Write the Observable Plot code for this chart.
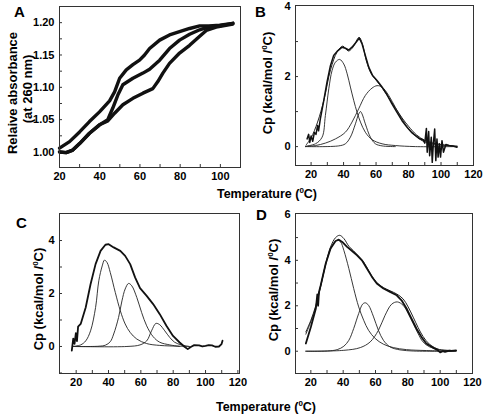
<!DOCTYPE html>
<html><head><meta charset="utf-8">
<script src="https://cdn.jsdelivr.net/npm/d3@7"></script>
<script src="https://cdn.jsdelivr.net/npm/@observablehq/plot@0.6"></script>
<style>
body{margin:0;background:#fff;}
#fig{position:relative;width:484px;height:414px;overflow:hidden;background:#fff;font-family:"Liberation Sans",Arial,sans-serif;}
#fig svg{position:absolute;}
</style></head><body><div id="fig"></div>
<script>
// ---------- Panel A: relative absorbance at 260 nm ----------
const aUpperT = [20,25,30,34.9,39.9,44.9,47.4,49.9,53.2,56.5,59.8,62.3,64.8,69.8,74.7,79.7,84.7,89.7,94.6,99.6,106.2];
const aUpperA = [1.006,1.016,1.031,1.047,1.062,1.079,1.093,1.114,1.127,1.135,1.142,1.150,1.160,1.173,1.181,1.186,1.191,1.195,1.195,1.196,1.199];
const aMiddleT = [20,23.3,26.6,30,34.9,39.9,44,46.5,49,51.5,56.5,61.5,64.8,69.8,74.7,79.7,84.7,89.7,94.6,99.6,106.2];
const aMiddleA = [1.000,0.999,1.003,1.013,1.029,1.042,1.050,1.068,1.088,1.104,1.114,1.122,1.128,1.142,1.160,1.173,1.182,1.189,1.194,1.195,1.199];
const aLowerT = [20,23.3,26.6,30,34.9,39.9,44,47.4,51.5,56.5,61.5,66.4,68.9,71.4,74.7,79.7,84.7,89.7,93,97.9,106.2];
const aLowerA = [1.000,0.999,1.003,1.013,1.029,1.042,1.048,1.060,1.073,1.083,1.091,1.098,1.109,1.122,1.137,1.153,1.165,1.179,1.188,1.193,1.198];
const aXTicks = [20,30,40,50,60,70,80,90,100,110];
const aXLabels = [20,40,60,80,100];
const aYTicks = [1.0,1.025,1.05,1.075,1.1,1.125,1.15,1.175,1.2];
const aYLabels = [1.0,1.05,1.1,1.15,1.2];

// ---------- Panel B ----------
const bDataT = [17.5,18.5,19.2,20,21,22,23,24,24.6,25.7,27.8,29.8,31.9,33.9,36,39.1,41.1,43.2,45.2,47.7,49.7,51.4,53.4,55.5,57.9,60.6,63.7,66.8,69.8,72.9,76,79.1,82.2,86.3,89,90,91,91.5,92.4,93,94,94.6,95.3,96.1,96.8,97.5,98.2,99,99.7,100.6,101.5,103,105,107,109.8];
const bDataCp = [0.22,0.35,0.12,0.3,0.15,0.4,0.35,0.6,0.45,0.79,1.31,1.84,2.31,2.60,2.72,2.84,2.81,2.76,2.84,2.98,3.10,2.93,2.60,2.27,2.03,1.89,1.70,1.48,1.22,0.98,0.74,0.55,0.39,0.24,0.19,0.1,0.52,-0.16,0.43,-0.26,0.27,-0.45,0.1,0.5,-0.4,0.22,-0.3,0.08,-0.3,0.17,-0.16,0.06,0.03,0.02,-0.02];
const bFitT = [17,20,24,28,32,36,39.5,43,46,49.5,51.5,54,57,60,64,68,72,76,80,85,90,95,100,105,110];
const bFitCp = [0.05,0.25,0.7,1.35,2.2,2.7,2.87,2.73,2.85,3.12,2.95,2.45,2.08,1.9,1.66,1.38,1.1,0.82,0.58,0.33,0.18,0.1,0.06,0.03,0.01];
const bC1T = [16.5,22.7,26.8,28.8,30.9,32.9,35,37.6,40.1,42.2,44.2,46.3,48.3,50.4,53.4,57.5,63.7,71.9,84.2,109.8];
const bC1Cp = [0.01,0.08,0.27,0.89,1.65,2.17,2.41,2.49,2.36,2.08,1.70,1.31,0.98,0.70,0.41,0.20,0.08,0.03,0,0];
const bC2T = [16.5,37,41.1,44.2,47.3,49.3,50.4,51.4,53.4,56.5,59.6,63.7,71.9];
const bC2Cp = [0,0.02,0.08,0.27,0.65,0.93,1.0,0.93,0.65,0.27,0.08,0.02,0];
const bC3T = [16.5,22.7,28.8,35,41.1,45.2,49.3,53.4,57.5,60.6,63.7,67.8,71.9,76,80.1,84.2,88.3,94.5,102.7,109.8];
const bC3Cp = [0,0.03,0.10,0.22,0.41,0.70,1.08,1.46,1.67,1.74,1.70,1.46,1.12,0.79,0.50,0.31,0.17,0.08,0.03,0.01];
const bXTicks = [20,30,40,50,60,70,80,90,100,110];
const bXLabels = [20,40,60,80,100,120];
const bYTicks = [0,1,2,3];
const bYLabels = [0,2,4];

// ---------- Panel C ----------
const cDataT = [17.3,18.2,19,19.8,20.5,21.2,22.8,25.9,28.9,32,35.1,38.1,40.1,43.2,47.3,50.3,53.4,56.5,59.5,63.6,67.6,71.7,75.8,79.9,84,87,89,91.1,93,96,98,100,102,104,106,108.3,109.9,110.5];
const cDataCp = [-0.16,0.3,0.1,0.5,0.2,0.75,0.85,1.47,2.35,3.11,3.61,3.84,3.86,3.74,3.61,3.42,3.11,2.60,2.20,1.91,1.60,1.22,0.78,0.40,0.15,-0.01,-0.10,-0.01,0.05,0.04,0.0,0.02,0.05,0.04,-0.01,0.0,0.09,0.22];
const cC1T = [17.8,22.8,25.9,28.9,32,34,36.1,37.5,39.1,41.1,44.2,47.3,50.3,53.4,57.5,63.6,71.7,84,90];
const cC1Cp = [0,0.06,0.21,0.59,1.47,2.48,3.04,3.26,3.17,2.79,2.04,1.35,0.85,0.53,0.28,0.11,0.04,0.01,0];
const cC2T = [17.8,34.1,38.1,41.1,43.2,46.2,48.3,50.3,52.4,54.4,57.5,60.5,63.6,67.6,71.7,77.9,84];
const cC2Cp = [0,0.01,0.05,0.18,0.47,1.09,1.72,2.17,2.38,2.29,1.85,1.28,0.78,0.37,0.16,0.06,0];
const cC3T = [17.8,51.4,59.5,63.6,66.6,69.3,71.7,74.8,77.9,80.9,85,90];
const cC3Cp = [0,0,0.06,0.21,0.59,0.87,0.82,0.59,0.34,0.16,0.06,0];
const cXTicks = [20,30,40,50,60,70,80,90,100,110,120];
const cXLabels = [20,40,60,80,100,120];
const cYTicks = [-1,0,1,2,3,4];
const cYLabels = [0,2,4];

// ---------- Panel D ----------
const dDataT = [16.9,20,23.1,24,24.5,25,26.1,29.2,32.2,35.3,37.3,39.4,42.4,45.5,48.6,51.6,54.7,57.8,60.8,64.9,69,73.1,76.1,79.2,82.2,85.3,88.4,91.4,95.5,98.6,100,101.6,103,105.7,107,109.8];
const dDataCp = [0.34,1.07,1.88,2.5,2.0,2.6,2.90,3.86,4.52,4.85,4.91,4.81,4.59,4.41,4.22,4.00,3.64,3.27,2.98,2.76,2.61,2.46,2.24,1.88,1.44,1.0,0.63,0.34,0.16,0.04,-0.05,0.0,-0.03,0.03,0.02,0.04];
const dFitT = [16.9,20,23.1,26.1,29.2,32.2,35.3,37.8,40.4,43.5,46.5,49.6,52.7,55.7,58.8,61.8,64.9,69,73.1,77.1,80.2,83.3,86.3,89.4,93.5,99.6,105,109.8];
const dFitCp = [0.85,1.36,2.02,2.90,3.86,4.59,5.0,5.10,4.96,4.62,4.41,4.18,3.92,3.55,3.2,2.95,2.8,2.66,2.52,2.3,1.95,1.5,1.05,0.65,0.3,0.07,0.03,0.03];
const dC1T = [16.9,20,23.1,26.1,29.2,32.2,35.3,36.9,38.5,40.4,43.5,46.5,49.6,52.7,55.7,59.8,64.9,71,79.2,91.4,109.8];
const dC1Cp = [0.75,1.3,1.95,2.85,3.8,4.5,4.85,4.88,4.8,4.44,3.64,2.76,1.95,1.36,0.92,0.56,0.31,0.16,0.07,0.03,0];
const dC2T = [16.9,30.2,36.3,40.4,43.5,46.5,49.6,52,53.7,55.7,58.8,61.8,64.9,69,75.1,83.3,91.4,109.8];
const dC2Cp = [0,0.01,0.07,0.22,0.48,1.0,1.66,2.07,2.13,2.02,1.51,0.92,0.48,0.19,0.06,0.01,0,0];
const dC3T = [16.9,40.4,50.6,56.7,61.8,65.9,70,73.5,77.1,80.2,83.3,86.3,89.4,93.5,99.6,109.8];
const dC3Cp = [0,0.04,0.16,0.41,0.92,1.58,2.07,2.17,2.02,1.66,1.22,0.78,0.41,0.19,0.07,0.03];
const dXTicks = [20,30,40,50,60,70,80,90,100,110];
const dXLabels = [20,40,60,80,100,120];
const dYTicks = [0,1,2,3,4,5];
const dYLabels = [0,2,4,6];

// ---------- drawing ----------
const fig = document.getElementById("fig");
const FONT = '"Liberation Sans", Arial, Helvetica, sans-serif';
const rows = (t, v) => t.map((x, i) => ({x, y: v[i]}));
const dataLine = (t, v, w = 1.8) => Plot.line(rows(t, v), {x: "x", y: "y", stroke: "#111", strokeWidth: w, strokeLinejoin: "round"});
const thinLine = (t, v) => Plot.line(rows(t, v), {x: "x", y: "y", stroke: "#222", strokeWidth: 0.9, curve: "catmull-rom"});

function panel(o) {
  const svg = Plot.plot({
    width: o.ml + o.fw + o.mr, height: o.mt + o.fh + o.mb,
    marginLeft: o.ml, marginTop: o.mt, marginRight: o.mr, marginBottom: o.mb,
    x: {domain: o.xd, label: null}, y: {domain: o.yd, label: null},
    style: {fontFamily: FONT, fontSize: "11px", fontWeight: "bold", background: "transparent", overflow: "visible", color: "#000"},
    marks: [
      Plot.axisX(o.xTicks, {tickSize: -3, tickFormat: () => "", label: null, strokeWidth: 0.8}),
      Plot.axisX(o.xLabels, {tickSize: 0, tickPadding: 5, tickFormat: d => String(d), label: null}),
      Plot.axisY(o.yTicks, {tickSize: -3, tickFormat: () => "", label: null, strokeWidth: 0.8}),
      Plot.axisY(o.yLabels, {tickSize: 0, tickPadding: 5, tickFormat: o.yFmt, label: null}),
      ...o.marks,
      Plot.frame({stroke: "#333", strokeWidth: 1})
    ]
  });
  svg.style.left = o.left + "px";
  svg.style.top = o.top + "px";
  fig.append(svg);
}

panel({left: 0, top: 0, ml: 59, mt: 6, fw: 181, fh: 161, mr: 2, mb: 30,
  xd: [20, 110], yd: [0.976, 1.225], xTicks: aXTicks, xLabels: aXLabels, yTicks: aYTicks, yLabels: aYLabels,
  yFmt: d3.format(".2f"),
  marks: [dataLine(aUpperT, aUpperA, 3.4), dataLine(aMiddleT, aMiddleA, 3.4), dataLine(aLowerT, aLowerA, 3.4)]});

panel({left: 242, top: 0, ml: 53, mt: 5, fw: 178, fh: 160, mr: 11, mb: 30,
  xd: [10.4, 120], yd: [-0.54, 4.03], xTicks: bXTicks, xLabels: bXLabels, yTicks: bYTicks, yLabels: bYLabels,
  yFmt: d => String(d),
  marks: [thinLine(bC1T, bC1Cp), thinLine(bC2T, bC2Cp), thinLine(bC3T, bC3Cp),
          Plot.line(rows(bFitT, bFitCp), {x: "x", y: "y", stroke: "#222", strokeWidth: 1, curve: "catmull-rom"}),
          dataLine(bDataT, bDataCp, 1.5)]});

panel({left: 0, top: 200, ml: 59, mt: 13, fw: 180, fh: 160, mr: 3, mb: 40,
  xd: [9.7, 121], yd: [-1.02, 5.02], xTicks: cXTicks, xLabels: cXLabels, yTicks: cYTicks, yLabels: cYLabels,
  yFmt: d => String(d),
  marks: [thinLine(cC1T, cC1Cp), thinLine(cC2T, cC2Cp), thinLine(cC3T, cC3Cp), dataLine(cDataT, cDataCp, 1.8)]});

panel({left: 242, top: 200, ml: 53, mt: 13, fw: 177, fh: 160, mr: 12, mb: 40,
  xd: [10.5, 120], yd: [-0.98, 6.06], xTicks: dXTicks, xLabels: dXLabels, yTicks: dYTicks, yLabels: dYLabels,
  yFmt: d => String(d),
  marks: [thinLine(dC1T, dC1Cp), thinLine(dC2T, dC2Cp), thinLine(dC3T, dC3Cp),
          Plot.line(rows(dFitT, dFitCp), {x: "x", y: "y", stroke: "#222", strokeWidth: 1, curve: "catmull-rom"}),
          dataLine(dDataT, dDataCp, 1.8)]});

// ---------- text overlay: panel letters and axis titles ----------
const NS = "http://www.w3.org/2000/svg";
const ov = document.createElementNS(NS, "svg");
ov.setAttribute("width", 484); ov.setAttribute("height", 414);
ov.style.left = "0px"; ov.style.top = "0px";
ov.setAttribute("font-family", FONT); ov.setAttribute("font-weight", "bold");
const degLabel = (pre) => `${pre}<tspan font-size="8" dy="-5">0</tspan><tspan dy="5">C)</tspan>`;
ov.innerHTML = `
  <text x="14" y="17" font-size="15">A</text>
  <text x="255" y="17" font-size="15">B</text>
  <text x="16" y="228" font-size="15">C</text>
  <text x="256" y="220" font-size="15">D</text>
  <text x="267" y="198" font-size="12.5" text-anchor="middle">${degLabel("Temperature (")}</text>
  <text x="266" y="411" font-size="12.5" text-anchor="middle">${degLabel("Temperature (")}</text>
  <text transform="translate(17,93) rotate(-90)" font-size="13" text-anchor="middle">Relaive absorbance</text>
  <text transform="translate(32,89) rotate(-90)" font-size="13" text-anchor="middle">(at 260 nm)</text>
  <text transform="translate(272,83) rotate(-90)" font-size="13" text-anchor="middle">${degLabel("Cp (kcal/mol /")}</text>
  <text transform="translate(43,299) rotate(-90)" font-size="13" text-anchor="middle">${degLabel("Cp (kcal/mol /")}</text>
  <text transform="translate(278,290) rotate(-90)" font-size="13" text-anchor="middle">${degLabel("Cp (kcal/mol /")}</text>
`;
fig.append(ov);
</script></body></html>
